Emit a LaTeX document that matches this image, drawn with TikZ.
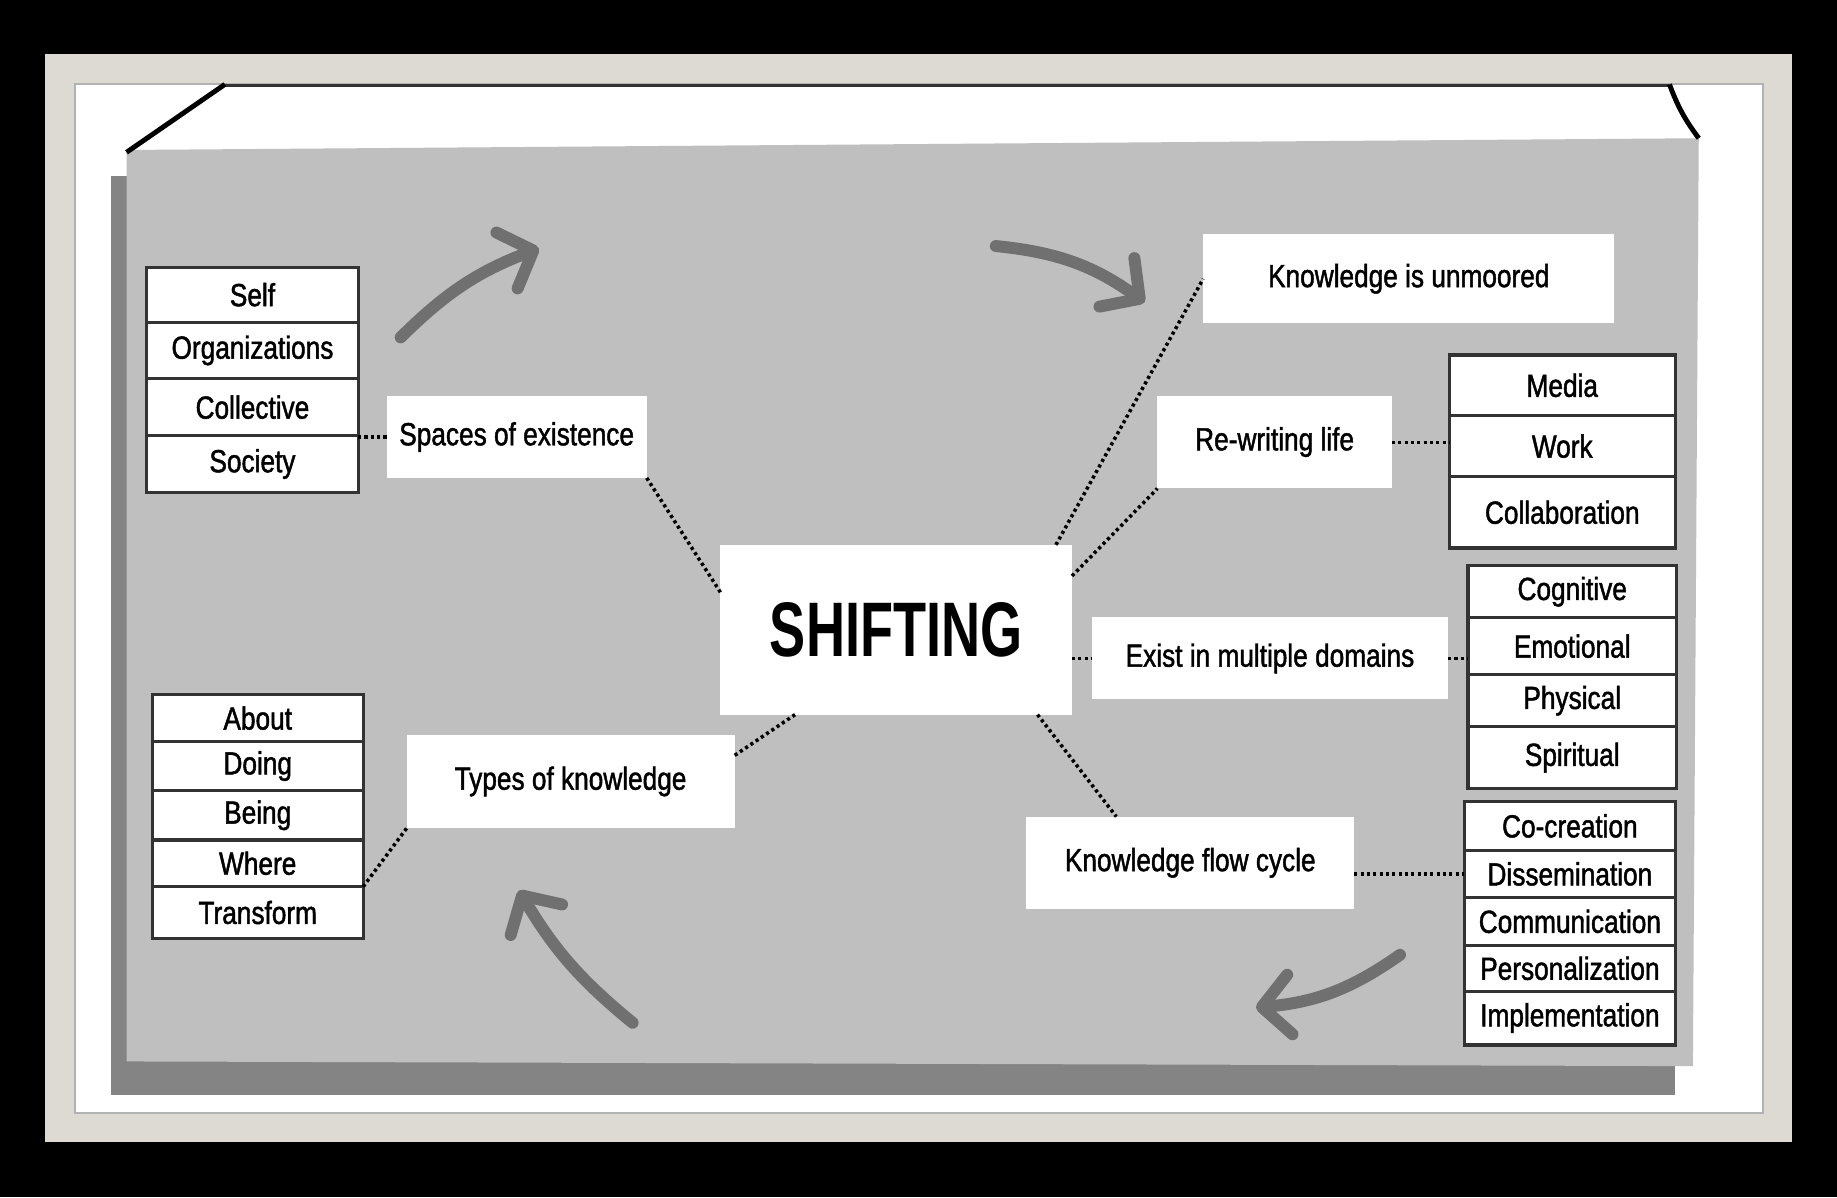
\documentclass[tikz,border=0pt]{standalone}
\usepackage{fontspec}
\setmainfont{Liberation Sans}[FakeStretch=0.82, FakeBold=1.4]
\newfontfamily\shiftfont{Liberation Sans Bold}[FakeStretch=0.7]
\usetikzlibrary{arrows.meta, positioning}
\definecolor{framebeige}{HTML}{DCDAD2}
\definecolor{boardgray}{HTML}{BFBFBF}
\definecolor{boardshadow}{HTML}{848484}
\definecolor{arrowgray}{HTML}{707070}

\begin{document}
\begin{tikzpicture}[
    x=0.3333pt, y=0.3333pt,
    node distance=0pt,
    every node/.style={font=\fontsize{9.1}{10}\selectfont},
    cell/.style={rectangle, draw=black!80, line width=0.9pt, fill=white,
                 minimum width=#1, inner sep=0pt, outer sep=0pt},
    topic/.style={rectangle, fill=white, inner sep=0pt, outer sep=0pt},
    link/.style={line width=1pt, dash pattern=on 0.9pt off 0.9pt},
    bigarrow/.style={arrowgray, line width=3.4pt, line cap=round,
                     -{Straight Barb[length=8pt, width=17pt, round]}}
  ]

  % frame and board
  \fill[black] (0,0) rectangle (1568,-1022);
  \fill[framebeige] (38,-46) rectangle (1530,-975);
  \filldraw[fill=white, draw=gray!60, line width=0.6pt] (64,-72) rectangle (1505,-950);
  \draw[gray!40!black, line width=0.8pt] (192,-73) -- (1425,-73);
  \fill[boardshadow] (95,-150) rectangle (1430,-935);
  \fill[boardgray] (108,-128) -- (1450,-118) -- (1445,-910) -- (108,-906) -- cycle;
  \draw[black, line width=1.4pt] (108,-130) -- (192,-72);
  \draw[black, line width=1.4pt] (1425,-72) to[bend right=8] (1450,-118);

  % centre
  \node[topic, minimum width=100pt, minimum height=48.3pt,
        font=\shiftfont\fontsize{22}{24}\selectfont] (shifting) at (765,-537.5) {SHIFTING};

  % branches
  \node[topic, minimum width=74pt, minimum height=23.3pt] (spaces) at (441,-373) {Spaces of existence};
  \node[topic, minimum width=93.3pt, minimum height=26.7pt] (types) at (487,-667) {Types of knowledge};
  \node[topic, minimum width=117pt, minimum height=25.3pt] (unmoored) at (1202.5,-238) {Knowledge is unmoored};
  \node[topic, minimum width=66.7pt, minimum height=26.3pt, text depth=2pt] (rewriting) at (1088,-377.5) {Re-writing life\hspace{8pt}};
  \node[topic, minimum width=101.3pt, minimum height=23.3pt] (domains) at (1084,-562) {Exist in multiple domains};
  \node[topic, minimum width=93.3pt, minimum height=26.3pt] (flow) at (1016,-736.5) {Knowledge flow cycle};

  % spaces of existence
  \node[cell=60.3pt, minimum height=15.7pt, anchor=north] (self) at (215.5,-228) {Self};
  \node[cell=60.3pt, minimum height=16pt, below=of self] (orgs) {Organizations};
  \node[cell=60.3pt, minimum height=16.3pt, below=of orgs] (collective) {Collective};
  \node[cell=60.3pt, minimum height=16pt, below=of collective] (society) {Society};

  % types of knowledge
  \node[cell=60pt, minimum height=13.3pt, anchor=north] (about) at (220,-593) {About};
  \node[cell=60pt, minimum height=14pt, below=of about] (doing) {Doing};
  \node[cell=60pt, minimum height=14pt, below=of doing] (being) {Being};
  \node[cell=60pt, minimum height=13.3pt, below=of being] (where) {Where};
  \node[cell=60pt, minimum height=14.7pt, below=of where] (transform) {Transform};

  % re-writing life
  \node[cell=64.3pt, minimum height=17.3pt, anchor=north] (media) at (1333.5,-303) {Media};
  \node[cell=64.3pt, minimum height=17.3pt, below=of media] (work) {Work};
  \node[cell=64.3pt, minimum height=20.3pt, below=of work] (collab) {Collaboration};

  % domains
  \node[cell=59.3pt, minimum height=14.7pt, anchor=north] (cognitive) at (1342,-483) {Cognitive};
  \node[cell=59.3pt, minimum height=16.3pt, below=of cognitive] (emotional) {Emotional};
  \node[cell=59.3pt, minimum height=14.7pt, below=of emotional] (physical) {Physical};
  \node[cell=59.3pt, minimum height=17.7pt, below=of physical] (spiritual) {Spiritual};

  % flow cycle
  \node[cell=60pt, minimum height=14pt, anchor=north] (cocreation) at (1340,-684) {Co-creation};
  \node[cell=60pt, minimum height=13.3pt, below=of cocreation] (dissemination) {Dissemination};
  \node[cell=60pt, minimum height=13.7pt, below=of dissemination] (communication) {Communication};
  \node[cell=60pt, minimum height=13pt, below=of communication] (personal) {Personalization};
  \node[cell=60pt, minimum height=15.3pt, below=of personal] (implement) {Implementation};

  % dotted links
  \draw[link] (spaces.west) -- (collective.east |- spaces.west);
  \draw[link] (spaces.south east) -- (shifting.168);
  \draw[link] (shifting.28) -- (unmoored.west);
  \draw[link] (shifting.17) -- (rewriting.south west);
  \draw[link] (rewriting.east) -- (work.west |- rewriting.east);
  \draw[link] (shifting.east |- domains.west) -- (domains.west);
  \draw[link] (domains.east) -- (emotional.west |- domains.east);
  \draw[link] (shifting.329) -- (flow.148);
  \draw[link] (flow.east |- dissemination.west) -- (dissemination.west);
  \draw[link] (shifting.220) -- (types.9);
  \draw[link] (types.south west) -- (where.south east);

  % cycle arrows
  \coordinate (a1s) at (342,-288);
  \coordinate (a1e) at (460,-212);
  \coordinate (a2s) at (850,-210);
  \coordinate (a2e) at (977,-258);
  \coordinate (a3s) at (1195,-815);
  \coordinate (a3e) at (1072,-860);
  \coordinate (a4s) at (540,-873);
  \coordinate (a4e) at (443,-760);
  \draw[bigarrow] (a1s) to[bend left=12] (a1e);
  \draw[bigarrow] (a2s) to[bend left=15] (a2e);
  \draw[bigarrow] (a3s) to[bend left=15] (a3e);
  \draw[bigarrow] (a4s) to[bend left=10] (a4e);
\end{tikzpicture}
\end{document}
